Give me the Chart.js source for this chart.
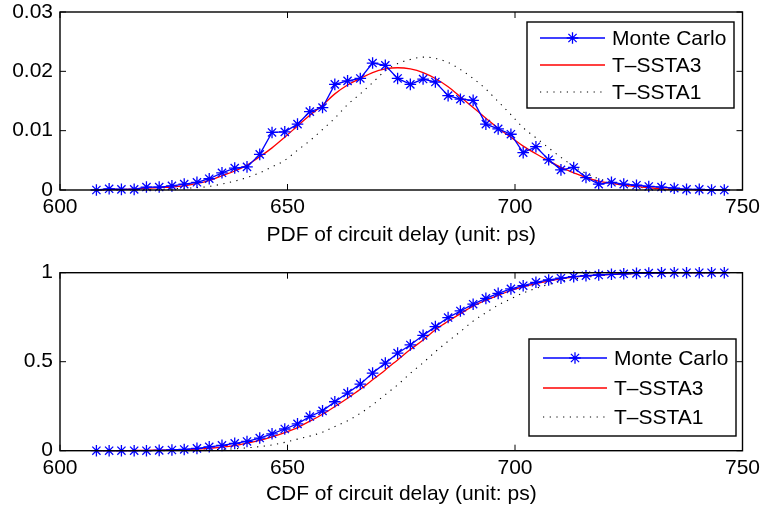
<!DOCTYPE html>
<html lang="en">
<head>
    <meta charset="UTF-8" />
    <title>Circuit delay PDF / CDF</title>
    <style>
        body { margin: 0; background: #fff; }
        .plot { position: absolute; left: 0; }
    </style>
</head>
<body>
    <canvas id="pdfChart" class="plot" style="top:0" width="762" height="253"></canvas>
    <canvas id="cdfChart" class="plot" style="top:253px" width="762" height="254"></canvas>

    <script src="https://cdn.jsdelivr.net/npm/chart.js"></script>
    <script>
        // delay grid of the Monte Carlo histogram (ps)
        const delay = [608.0, 610.8, 613.5, 616.3, 619.0, 621.8, 624.6, 627.3, 630.1, 632.8,
            635.6, 638.4, 641.1, 643.9, 646.6, 649.4, 652.2, 654.9, 657.7, 660.4,
            663.2, 666.0, 668.7, 671.5, 674.2, 677.0, 679.8, 682.5, 685.3, 688.0,
            690.8, 693.6, 696.3, 699.1, 701.8, 704.6, 707.4, 710.1, 712.9, 715.6,
            718.4, 721.2, 723.9, 726.7, 729.4, 732.2, 735.0, 737.7, 740.5, 743.2, 746.0];

        const mcPdf = [0, 0.0002, 0.0001, 0.0001, 0.0005, 0.0005, 0.0007, 0.0010, 0.0013, 0.0019,
            0.0029, 0.0037, 0.0039, 0.0060, 0.0097, 0.0098, 0.0111, 0.0132, 0.0139, 0.0178,
            0.0184, 0.0188, 0.0214, 0.0210, 0.0188, 0.0178, 0.0187, 0.0182, 0.0159, 0.0153,
            0.0151, 0.0111, 0.0103, 0.0094, 0.0063, 0.0073, 0.0051, 0.0034, 0.0038, 0.0021,
            0.0010, 0.0013, 0.0010, 0.0008, 0.0006, 0.0005, 0.0003, 0.0001, 0.0001, 0, 0];

        const ssta3Pdf = [0, 0.0001, 0.0001, 0.0002, 0.0003, 0.0004, 0.0005, 0.0007, 0.0011, 0.0016,
            0.0024, 0.0032, 0.0042, 0.0056, 0.0071, 0.0089, 0.0108, 0.0126, 0.0143, 0.0162,
            0.0177, 0.0188, 0.0198, 0.0204, 0.0206, 0.0204, 0.0198, 0.0188, 0.0174, 0.0157,
            0.0139, 0.0121, 0.0104, 0.0089, 0.0074, 0.0061, 0.0049, 0.0038, 0.0029, 0.0021,
            0.0015, 0.0011, 0.0008, 0.0006, 0.0004, 0.0002, 0.0001, 0.0001, 0, 0, 0];

        const ssta1Pdf = [0, 0, 0, 0, 0, 0.0001, 0.0002, 0.0003, 0.0004, 0.0006,
            0.0010, 0.0015, 0.0021, 0.0029, 0.0039, 0.0050, 0.0067, 0.0083, 0.0102, 0.0121,
            0.0144, 0.0162, 0.0181, 0.0201, 0.0213, 0.0220, 0.0224, 0.0222, 0.0215, 0.0203,
            0.0188, 0.0170, 0.0149, 0.0127, 0.0105, 0.0088, 0.0071, 0.0055, 0.0040, 0.0028,
            0.0019, 0.0013, 0.0008, 0.0005, 0.0003, 0.0002, 0.0001, 0, 0, 0, 0];

        const mcCdf = [0, 0, 0, 0, 0, 0.002, 0.004, 0.007, 0.013, 0.022,
            0.030, 0.041, 0.052, 0.071, 0.095, 0.122, 0.151, 0.192, 0.224, 0.275,
            0.324, 0.374, 0.436, 0.492, 0.548, 0.594, 0.648, 0.697, 0.748, 0.785,
            0.823, 0.856, 0.884, 0.909, 0.927, 0.946, 0.959, 0.969, 0.978, 0.983,
            0.987, 0.991, 0.994, 0.996, 0.998, 0.999, 1, 1, 1, 1, 1];

        const ssta3Cdf = [0, 0, 0, 0.001, 0.002, 0.003, 0.004, 0.006, 0.009, 0.014,
            0.020, 0.029, 0.042, 0.058, 0.078, 0.102, 0.130, 0.166, 0.205, 0.248,
            0.295, 0.345, 0.398, 0.454, 0.510, 0.568, 0.622, 0.680, 0.727, 0.770,
            0.812, 0.845, 0.873, 0.900, 0.920, 0.938, 0.953, 0.965, 0.975, 0.982,
            0.987, 0.991, 0.994, 0.996, 0.998, 0.999, 1, 1, 1, 1, 1];

        const ssta1Cdf = [0, 0, 0, 0, 0, 0, 0.001, 0.002, 0.003, 0.005,
            0.007, 0.011, 0.016, 0.023, 0.032, 0.047, 0.065, 0.082, 0.104, 0.136,
            0.168, 0.210, 0.258, 0.315, 0.370, 0.435, 0.494, 0.556, 0.615, 0.669,
            0.728, 0.775, 0.818, 0.853, 0.886, 0.912, 0.934, 0.951, 0.964, 0.974,
            0.982, 0.988, 0.992, 0.995, 0.997, 0.998, 0.999, 1, 1, 1, 1];

        const seriesNames = ['Monte Carlo', 'T\u2013SSTA3', 'T\u2013SSTA1'];

        const FONT = { family: "'Liberation Sans', Arial, Helvetica, sans-serif", size: 21 };

        const toPoints = ys => ys.map((v, i) => ({ x: delay[i], y: v }));
        const plainNumber = v => String(parseFloat(Number(v).toFixed(4)));

        // box with inward ticks + legend drawn inside the axes, MATLAB style
        const matlabFrame = {
            id: 'matlabFrame',
            afterDatasetsDraw(chart, args, opts) {
                const { ctx, chartArea: a, scales: { x, y } } = chart;
                ctx.save();
                ctx.strokeStyle = '#000';
                ctx.lineWidth = 1.4;
                ctx.strokeRect(a.left, a.top, a.right - a.left, a.bottom - a.top);

                const t = 6;
                ctx.lineWidth = 1;
                ctx.beginPath();
                x.ticks.forEach(tk => {
                    const px = x.getPixelForValue(tk.value);
                    ctx.moveTo(px, a.bottom); ctx.lineTo(px, a.bottom - t);
                    ctx.moveTo(px, a.top); ctx.lineTo(px, a.top + t);
                });
                y.ticks.forEach(tk => {
                    const py = y.getPixelForValue(tk.value);
                    ctx.moveTo(a.left, py); ctx.lineTo(a.left + t, py);
                    ctx.moveTo(a.right, py); ctx.lineTo(a.right - t, py);
                });
                ctx.stroke();

                // legend
                const [bx0, by0, bx1, by1] = opts.box;
                ctx.fillStyle = '#fff';
                ctx.fillRect(bx0, by0, bx1 - bx0, by1 - by0);
                ctx.lineWidth = 1.4;
                ctx.strokeRect(bx0, by0, bx1 - bx0, by1 - by0);

                ctx.font = FONT.size + 'px ' + FONT.family;
                ctx.textBaseline = 'middle';
                ctx.textAlign = 'left';
                chart.data.datasets.forEach((ds, i) => {
                    const ry = opts.rows[i];
                    ctx.save();
                    ctx.strokeStyle = ds.borderColor;
                    ctx.lineWidth = ds.borderWidth;
                    ctx.setLineDash(ds.borderDash || []);
                    ctx.beginPath();
                    ctx.moveTo(opts.lineX[0], ry);
                    ctx.lineTo(opts.lineX[1], ry);
                    ctx.stroke();
                    ctx.setLineDash([]);
                    if (ds.pointStyle && ds.pointRadius > 0) {
                        ctx.lineWidth = ds.pointBorderWidth;
                        Chart.helpers.drawPoint(ctx, {
                            pointStyle: ds.pointStyle, radius: ds.pointRadius,
                            borderWidth: ds.pointBorderWidth, rotation: 0
                        }, (opts.lineX[0] + opts.lineX[1]) / 2, ry);
                    }
                    ctx.restore();
                    ctx.fillStyle = '#000';
                    ctx.fillText(ds.label, opts.textX, ry + 1);
                });
                ctx.restore();
            }
        };

        function makeDatasets(mc, s3, s1) {
            return [
                {
                    label: seriesNames[0], data: toPoints(mc),
                    borderColor: '#0000ff', backgroundColor: '#0000ff', borderWidth: 1.3,
                    pointStyle: 'star', pointRadius: 5.8, pointBorderWidth: 1.3,
                    pointBorderColor: '#0000ff', tension: 0, clip: false
                },
                {
                    label: seriesNames[1], data: toPoints(s3),
                    borderColor: '#ff0000', borderWidth: 1.3, pointRadius: 0,
                    cubicInterpolationMode: 'monotone', clip: false
                },
                {
                    label: seriesNames[2], data: toPoints(s1),
                    borderColor: '#000000', borderWidth: 1.1, borderDash: [1.2, 5.5], pointRadius: 0,
                    cubicInterpolationMode: 'monotone', clip: false
                }
            ];
        }

        function makeChart(id, datasets, cfg) {
            return new Chart(document.getElementById(id), {
                type: 'line',
                data: { datasets: datasets },
                options: {
                    responsive: false,
                    animation: false,
                    events: [],
                    layout: { padding: { top: cfg.padTop, right: 19.5, left: 0, bottom: 0 } },
                    plugins: {
                        legend: { display: false },
                        tooltip: { enabled: false },
                        matlabFrame: cfg.legend
                    },
                    scales: {
                        x: {
                            type: 'linear', min: 600, max: 750,
                            grid: { display: false, drawTicks: false },
                            border: { display: false },
                            ticks: { stepSize: 50, color: '#000', font: FONT, padding: 5, maxRotation: 0 },
                            title: {
                                display: true, text: cfg.xTitle, color: '#000', font: FONT,
                                padding: { top: 0, bottom: cfg.titlePad }
                            },
                            afterFit: s => {
                                s.height = cfg.xHeight;
                                s.paddingLeft = 0; s.paddingRight = 0;
                            }
                        },
                        y: {
                            min: 0, max: cfg.yMax,
                            grid: { display: false, drawTicks: false },
                            border: { display: false },
                            ticks: {
                                stepSize: cfg.yStep, color: '#000', font: FONT, padding: 7,
                                callback: v => plainNumber(v)
                            },
                            afterFit: s => {
                                s.width = 60;
                                s.paddingTop = 0; s.paddingBottom = 0;
                            }
                        }
                    }
                },
                plugins: [matlabFrame]
            });
        }

        makeChart('pdfChart', makeDatasets(mcPdf, ssta3Pdf, ssta1Pdf), {
            padTop: 12, xHeight: 63, titlePad: 5, yMax: 0.03, yStep: 0.01,
            xTitle: 'PDF of circuit delay (unit: ps)',
            legend: { box: [527, 22, 734, 108], rows: [38, 65, 92], lineX: [540, 605], textX: 612 }
        });

        makeChart('cdfChart', makeDatasets(mcCdf, ssta3Cdf, ssta1Cdf), {
            padTop: 19.7, xHeight: 56.3, titlePad: 0, yMax: 1, yStep: 0.5,
            xTitle: 'CDF of circuit delay (unit: ps)',
            legend: { box: [529, 86, 736, 183], rows: [105, 135, 164], lineX: [543, 607], textX: 614 }
        });
    </script>
</body>
</html>
